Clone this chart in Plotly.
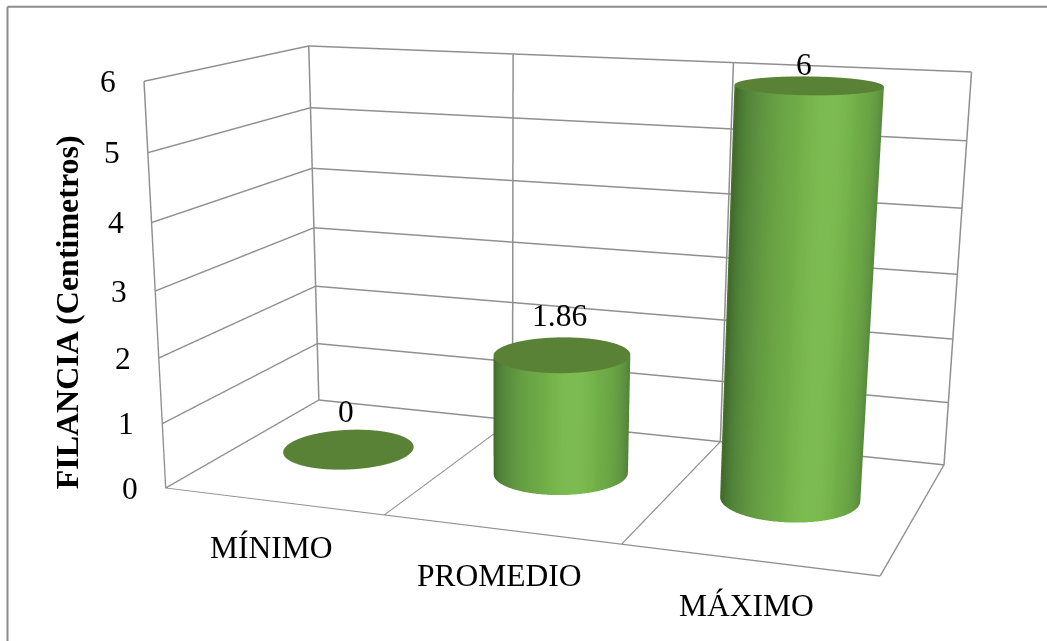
import numpy as np
import plotly.graph_objects as go

categories = ["MÍNIMO", "PROMEDIO", "MÁXIMO"]
values = [0, 1.86, 6]
z_ticks = [0, 1, 2, 3, 4, 5, 6]
axis_title = "FILANCIA (Centimetros)"

PW, PH = 1047, 641
# Long-lens camera: the scene is taller than the page so that the 45 degree
# field of view of the 3D scene gives the same mild perspective as the picture.
FOCAL, PX, PY = 2032.18, 501.47, 487.59
FH = 2 * FOCAL * np.tan(np.pi / 8)
top = PY - FH / 2


def paper(xp, yp):
    return xp / PW, 1 - (yp - top) / FH


fig = go.Figure()
theta = np.linspace(0, 2 * np.pi, 181)
rx, ry, cy = 0.285, 0.21, 0.53
cat_pos = [i + 0.48 for i in range(len(categories))]
phi = np.radians(30)
flat = dict(ambient=1, diffuse=0, specular=0, fresnel=0)
for cx, v in zip(cat_pos, values):
    if v > 0:
        X = cx + rx * np.cos(theta)
        Y = cy + ry * np.sin(theta)
        shade = np.abs(np.sin(theta - phi))
        fig.add_trace(go.Surface(
            x=np.vstack([X, X]), y=np.vstack([Y, Y]),
            z=np.vstack([np.zeros_like(X), np.full_like(X, v)]),
            surfacecolor=np.vstack([shade, shade]), cmin=0, cmax=1,
            colorscale=[[0, "#44692a"], [0.2, "#4a7a35"], [0.6, "#5f9440"], [0.92, "#70ad47"], [1, "#7cbb50"]],
            showscale=False, hoverinfo="skip", lighting=flat))
    rr = np.array([0, 1.0])
    X = cx + np.outer(rr, rx * np.cos(theta))
    Y = cy + np.outer(rr, ry * np.sin(theta))
    fig.add_trace(go.Surface(
        x=X, y=Y, z=np.full_like(X, v), surfacecolor=np.zeros_like(X), cmin=0, cmax=1,
        colorscale=[[0, "#5a8236"], [1, "#5a8236"]],
        showscale=False, hoverinfo="skip", lighting=flat))

font = dict(family="Liberation Serif", size=31.5, color="#000000")
ann = []
for t in z_ticks:
    ann.append(dict(x=0, y=0, z=t, text=str(t), showarrow=False, xshift=-36, font=font))
for i, c in enumerate(categories):
    ann.append(dict(x=i + 0.5, y=0, z=0, text=c, showarrow=False, yshift=-46, xshift=-1, font=font))
label_dx = [-3, -2, -5]
label_dy = [38, 39, 21]
for i, v in enumerate(values):
    ann.append(dict(x=cat_pos[i], y=cy, z=v, text=str(v), showarrow=False,
                    xshift=label_dx[i], yshift=label_dy[i], font=font))

grid = dict(showgrid=True, gridcolor="#8f8f8f", gridwidth=3, showticklabels=False, title="",
            zeroline=False, showline=False, showspikes=False, showbackground=False, ticks="")
tx, ty = paper(67, 312)
lx0, ly0 = paper(7.5, 6.5)
lx1, ly1 = paper(PW, PH)
fig.update_layout(
    width=PW, height=FH, margin=dict(l=0, r=0, t=0, b=0), paper_bgcolor="white", showlegend=False,
    scene=dict(
        domain=dict(x=[0, 2 * PX / PW], y=[0, 1]),
        aspectmode="manual", aspectratio=dict(x=1, y=0.4941, z=0.5609),
        camera=dict(eye=dict(x=0.8932, y=-2.6101, z=0.5921),
                    center=dict(x=-0.0492, y=-0.1128, z=-0.2696),
                    up=dict(x=0.0046, y=0.0017, z=1),
                    projection=dict(type="perspective")),
        xaxis=dict(grid, range=[0, 3], tickmode="array", tickvals=[0, 1, 2, 3]),
        yaxis=dict(grid, range=[0, 1], tickmode="array", tickvals=[0, 1]),
        zaxis=dict(grid, range=[0, 6], tickmode="array", tickvals=z_ticks),
        annotations=ann),
    annotations=[
        dict(xref="paper", yref="paper", x=tx, y=ty, xanchor="center", yanchor="middle",
             text="<b>" + axis_title + "</b>", textangle=-90, showarrow=False,
             font=dict(family="Liberation Serif", size=32, color="#000000")),
    ],
    shapes=[
        dict(type="line", xref="paper", yref="paper", x0=lx0, x1=lx1, y0=ly0, y1=ly0,
             line=dict(color="#8c8c8c", width=2)),
        dict(type="line", xref="paper", yref="paper", x0=lx0, x1=lx0, y0=ly0, y1=ly1,
             line=dict(color="#8c8c8c", width=2)),
    ],
)
post = ("document.documentElement.style.overflow='hidden';document.body.style.overflow='hidden';"
        "document.body.style.margin='0';var g=document.getElementById('{plot_id}');"
        "g.style.position='absolute';g.style.left='0px';g.style.top='%.1fpx';" % top)
fig.write_html("out.html", post_script=post)
